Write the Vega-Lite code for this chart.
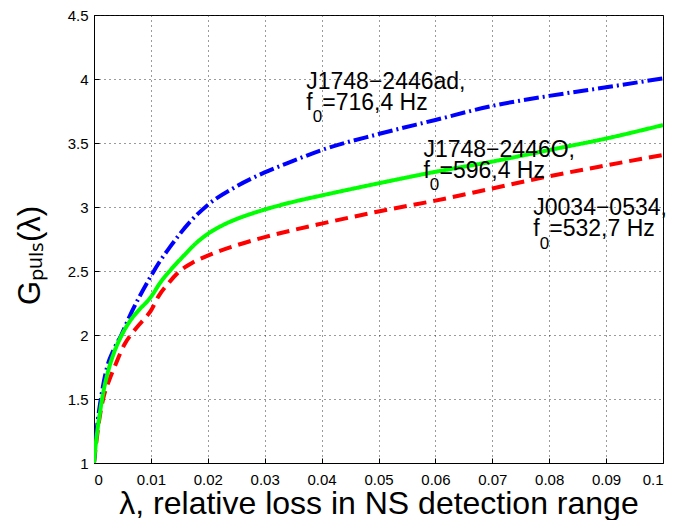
{
  "$schema": "https://vega.github.io/schema/vega-lite/v6.json",
  "width": 569,
  "height": 448,
  "autosize": {"type": "none"},
  "padding": {"left": 94, "top": 15, "right": 12, "bottom": 57},
  "background": "white",
  "datasets": {
    "notes": [
      {"x": 0.0373, "y": 3.922, "name": "J1748−2446ad,", "rest": "=716,4 Hz"},
      {"x": 0.0579, "y": 3.393, "name": "J1748−2446O,", "rest": "=596,4 Hz"},
      {"x": 0.0772, "y": 2.9375, "name": "J0034−0534,", "rest": "=532,7 Hz"}
    ]
  },
  "config": {
    "view": {"stroke": "#000", "strokeWidth": 1},
    "font": "Liberation Sans",
    "axis": {
      "domainColor": "#000",
      "domainWidth": 1,
      "gridColor": "#222",
      "gridDash": [1, 4],
      "gridWidth": 1,
      "gridOpacity": 0.9,
      "ticks": true,
      "tickColor": "#000",
      "tickSize": -5,
      "labelColor": "#000",
      "titleColor": "#000",
      "labelFont": "Liberation Sans",
      "titleFont": "Liberation Sans",
      "labelFontSize": 15,
      "titleFontWeight": "normal"
    }
  },
  "layer": [
    {
      "data": {
        "values": [
          {"s": "red", "x": 0, "y": 1.0},
          {"s": "red", "x": 0.0003, "y": 1.12},
          {"s": "red", "x": 0.0008, "y": 1.3},
          {"s": "red", "x": 0.0016, "y": 1.5},
          {"s": "red", "x": 0.0027, "y": 1.65},
          {"s": "red", "x": 0.0037, "y": 1.76},
          {"s": "red", "x": 0.0054, "y": 1.93},
          {"s": "red", "x": 0.007, "y": 2.03},
          {"s": "red", "x": 0.0085, "y": 2.11},
          {"s": "red", "x": 0.01, "y": 2.19},
          {"s": "red", "x": 0.0113, "y": 2.3},
          {"s": "red", "x": 0.013, "y": 2.4},
          {"s": "red", "x": 0.0151, "y": 2.5},
          {"s": "red", "x": 0.0175, "y": 2.57},
          {"s": "red", "x": 0.02, "y": 2.62},
          {"s": "red", "x": 0.025, "y": 2.7},
          {"s": "red", "x": 0.03, "y": 2.765},
          {"s": "red", "x": 0.035, "y": 2.82},
          {"s": "red", "x": 0.04, "y": 2.87},
          {"s": "red", "x": 0.05, "y": 2.965},
          {"s": "red", "x": 0.06, "y": 3.05},
          {"s": "red", "x": 0.07, "y": 3.145},
          {"s": "red", "x": 0.08, "y": 3.24},
          {"s": "red", "x": 0.09, "y": 3.325},
          {"s": "red", "x": 0.1, "y": 3.406},
          {"s": "blue", "x": 0, "y": 1.0},
          {"s": "blue", "x": 0.0002, "y": 1.13},
          {"s": "blue", "x": 0.0005, "y": 1.27},
          {"s": "blue", "x": 0.0012, "y": 1.5},
          {"s": "blue", "x": 0.0023, "y": 1.75},
          {"s": "blue", "x": 0.0035, "y": 1.89},
          {"s": "blue", "x": 0.0048, "y": 2.0},
          {"s": "blue", "x": 0.0063, "y": 2.15},
          {"s": "blue", "x": 0.008, "y": 2.3},
          {"s": "blue", "x": 0.01, "y": 2.46},
          {"s": "blue", "x": 0.0115, "y": 2.57},
          {"s": "blue", "x": 0.0134, "y": 2.69},
          {"s": "blue", "x": 0.0169, "y": 2.885},
          {"s": "blue", "x": 0.02, "y": 3.016},
          {"s": "blue", "x": 0.025, "y": 3.16},
          {"s": "blue", "x": 0.03, "y": 3.27},
          {"s": "blue", "x": 0.035, "y": 3.36},
          {"s": "blue", "x": 0.04, "y": 3.445},
          {"s": "blue", "x": 0.05, "y": 3.57},
          {"s": "blue", "x": 0.06, "y": 3.68},
          {"s": "blue", "x": 0.07, "y": 3.79},
          {"s": "blue", "x": 0.08, "y": 3.868},
          {"s": "blue", "x": 0.09, "y": 3.935},
          {"s": "blue", "x": 0.1, "y": 4.005},
          {"s": "green", "x": 0, "y": 1.0},
          {"s": "green", "x": 0.0002, "y": 1.1},
          {"s": "green", "x": 0.0005, "y": 1.22},
          {"s": "green", "x": 0.001, "y": 1.38},
          {"s": "green", "x": 0.0015, "y": 1.52},
          {"s": "green", "x": 0.0025, "y": 1.72},
          {"s": "green", "x": 0.0035, "y": 1.86},
          {"s": "green", "x": 0.005, "y": 2.01},
          {"s": "green", "x": 0.0065, "y": 2.12},
          {"s": "green", "x": 0.008, "y": 2.2},
          {"s": "green", "x": 0.0095, "y": 2.27},
          {"s": "green", "x": 0.0102, "y": 2.31},
          {"s": "green", "x": 0.0115, "y": 2.4},
          {"s": "green", "x": 0.0135, "y": 2.51},
          {"s": "green", "x": 0.016, "y": 2.63},
          {"s": "green", "x": 0.018, "y": 2.72},
          {"s": "green", "x": 0.02, "y": 2.79},
          {"s": "green", "x": 0.0225, "y": 2.855},
          {"s": "green", "x": 0.025, "y": 2.905},
          {"s": "green", "x": 0.0275, "y": 2.945},
          {"s": "green", "x": 0.03, "y": 2.98},
          {"s": "green", "x": 0.035, "y": 3.04},
          {"s": "green", "x": 0.04, "y": 3.09},
          {"s": "green", "x": 0.05, "y": 3.185},
          {"s": "green", "x": 0.06, "y": 3.275},
          {"s": "green", "x": 0.07, "y": 3.355},
          {"s": "green", "x": 0.08, "y": 3.445},
          {"s": "green", "x": 0.09, "y": 3.535},
          {"s": "green", "x": 0.1, "y": 3.64}
        ]
      },
      "mark": {"type": "line", "strokeWidth": 4, "clip": true, "interpolate": "monotone"},
      "encoding": {
        "x": {
          "field": "x",
          "type": "quantitative",
          "scale": {"domain": [0, 0.1], "nice": false, "zero": false},
          "axis": {
            "values": [0, 0.01, 0.02, 0.03, 0.04, 0.05, 0.06, 0.07, 0.08, 0.09, 0.1],
            "format": "~g",
            "labelPadding": 14,
            "title": "λ, relative loss in NS detection range",
            "titleFontSize": 32,
            "titleBaseline": "alphabetic",
            "titleY": 50
          }
        },
        "y": {
          "field": "y",
          "type": "quantitative",
          "scale": {"domain": [1, 4.5], "nice": false, "zero": false},
          "axis": {
            "values": [1, 1.5, 2, 2.5, 3, 3.5, 4, 4.5],
            "format": "~g",
            "labelPadding": 11,
            "title": "Gₚᵤₗₛ(λ)",
            "titleFontSize": 31,
            "titleAngle": -90,
            "titleAlign": "center",
            "titleBaseline": "alphabetic",
            "titleX": -55,
            "titleY": 240
          }
        },
        "color": {
          "field": "s",
          "type": "nominal",
          "scale": {"domain": ["red", "blue", "green"], "range": ["#ff0000", "#0000ff", "#00ff00"]},
          "legend": null
        },
        "strokeDash": {
          "field": "s",
          "type": "nominal",
          "scale": {"domain": ["red", "blue", "green"], "range": [[13, 7], [15, 4, 2, 4], [1, 0]]},
          "legend": null
        }
      }
    },
    {
      "data": {"name": "notes"},
      "mark": {"type": "text", "align": "left", "baseline": "alphabetic", "font": "Liberation Sans", "fontSize": 23, "color": "#000"},
      "encoding": {
        "x": {"field": "x", "type": "quantitative"},
        "y": {"field": "y", "type": "quantitative"},
        "text": {"field": "name"}
      }
    },
    {
      "data": {"name": "notes"},
      "mark": {"type": "text", "align": "left", "baseline": "alphabetic", "font": "Liberation Sans", "fontSize": 23, "color": "#000", "dy": 21},
      "encoding": {
        "x": {"field": "x", "type": "quantitative"},
        "y": {"field": "y", "type": "quantitative"},
        "text": {"value": "f"}
      }
    },
    {
      "data": {"name": "notes"},
      "mark": {"type": "text", "align": "left", "baseline": "alphabetic", "font": "Liberation Sans", "fontSize": 17, "color": "#000", "dx": 6.4, "dy": 33.5},
      "encoding": {
        "x": {"field": "x", "type": "quantitative"},
        "y": {"field": "y", "type": "quantitative"},
        "text": {"value": "0"}
      }
    },
    {
      "data": {"name": "notes"},
      "mark": {"type": "text", "align": "left", "baseline": "alphabetic", "font": "Liberation Sans", "fontSize": 23, "color": "#000", "dx": 16, "dy": 21},
      "encoding": {
        "x": {"field": "x", "type": "quantitative"},
        "y": {"field": "y", "type": "quantitative"},
        "text": {"field": "rest"}
      }
    }
  ]
}
